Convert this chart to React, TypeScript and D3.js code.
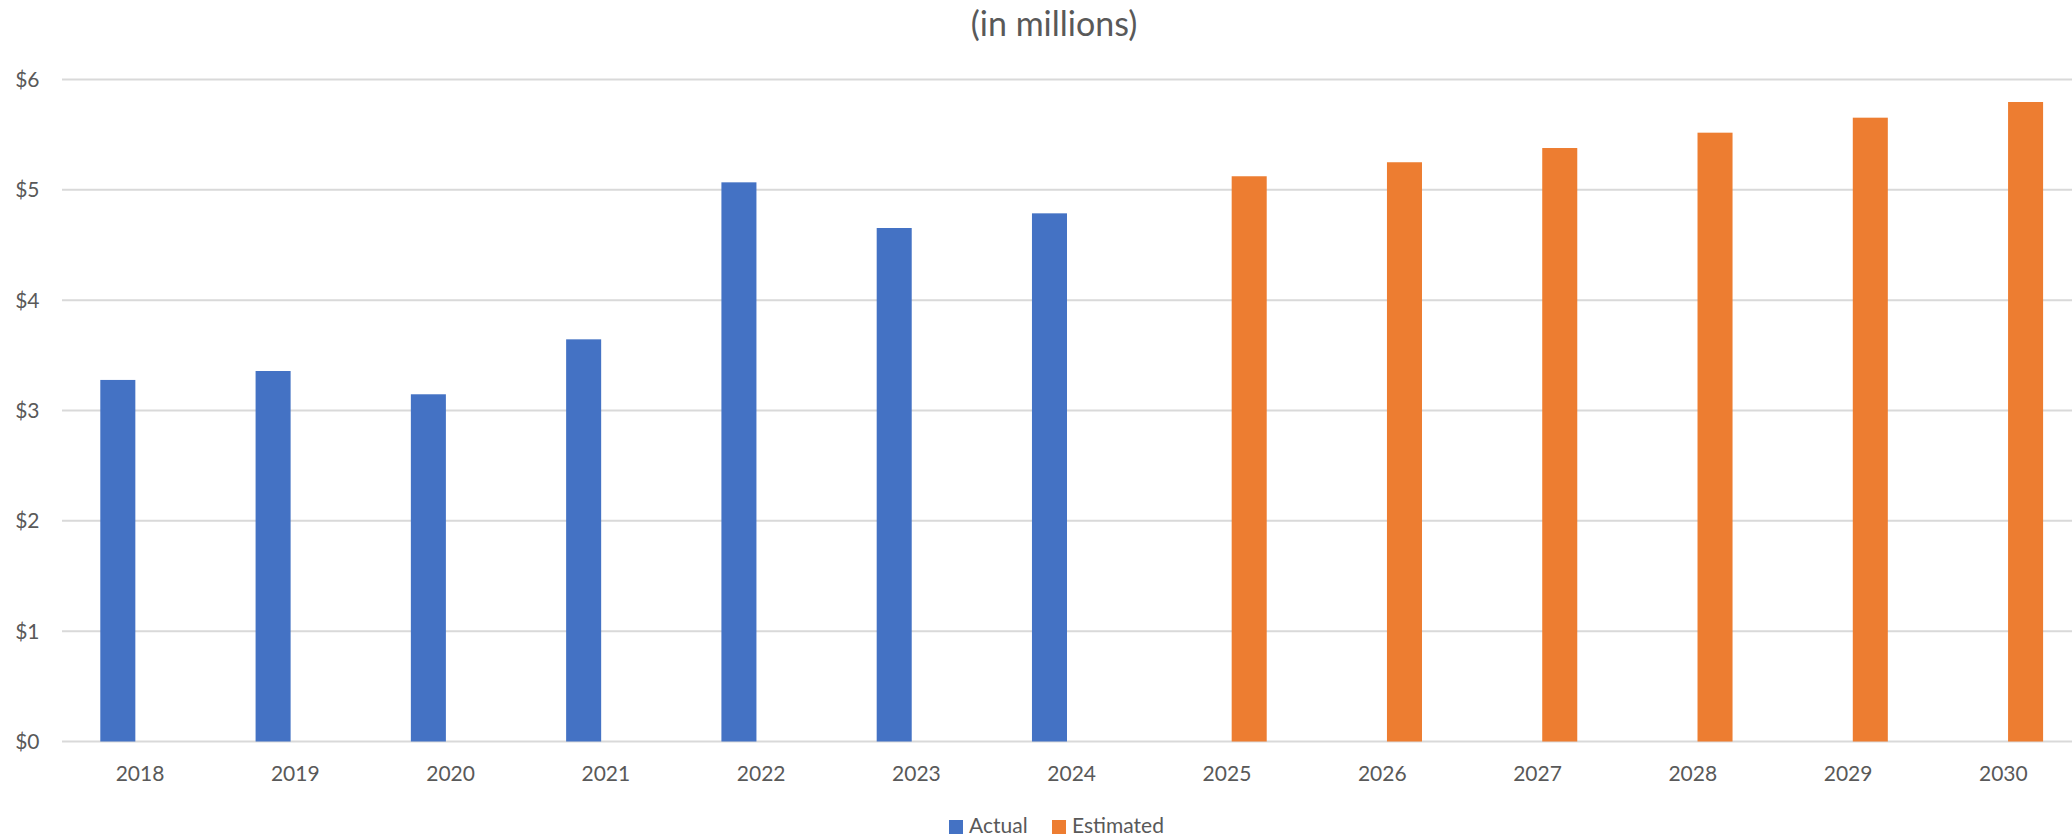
import React from "react";
import * as d3 from "d3";

const years = ["2018","2019","2020","2021","2022","2023","2024","2025","2026","2027","2028","2029","2030"];
const actual: (number | null)[] = [3.277, 3.358, 3.147, 3.645, 5.068, 4.654, 4.787, null, null, null, null, null, null];
const estimated: (number | null)[] = [null, null, null, null, null, null, null, 5.123, 5.25, 5.379, 5.518, 5.654, 5.796];
const seriesNames = ["Actual", "Estimated"];
const seriesColors = ["#4472C4", "#ED7D31"];
const yTicks = [0, 1, 2, 3, 4, 5, 6];
const title = "(in millions)";

const W = 2072;
const H = 838;
const FONT = "Lato, 'Open Sans', sans-serif";
const TEXT = "#595959";

export default function App() {
  const x = d3.scaleBand<string>().domain(years).range([62.4, 2081]).paddingInner(0).paddingOuter(0);
  const step = x.bandwidth();
  const inner = d3.scaleBand<string>().domain(seriesNames).range([0, step]).paddingInner(0.2117).paddingOuter(0.853);
  const y = d3.scaleLinear().domain([0, 6]).range([741.5, 79.5]);
  const series = [actual, estimated];

  return (
    <svg width={W} height={H} style={{ position: "absolute", left: 0, top: 0, background: "#fff" }} fontFamily={FONT}>
      <rect x={0} y={0} width={W} height={H} fill="#fff" />
      <text x={1054} y={36} textAnchor="middle" fontSize={34} fill={TEXT}>{title}</text>
      {yTicks.map((t) => (
        <g key={t}>
          <line x1={62} x2={W} y1={y(t)} y2={y(t)} stroke="#d9d9d9" strokeWidth={2} />
          <text x={39.5} y={y(t)} dy="0.35em" textAnchor="end" fontSize={21} fill={TEXT}>{`$${d3.format("d")(t)}`}</text>
        </g>
      ))}
      {series.map((vals, si) =>
        vals.map((v, i) =>
          v == null ? null : (
            <rect
              key={`${si}-${i}`}
              x={(x(years[i]) as number) + (inner(seriesNames[si]) as number)}
              width={inner.bandwidth()}
              y={y(v)}
              height={y(0) - y(v)}
              fill={seriesColors[si]}
            />
          )
        )
      )}
      {years.map((yr) => (
        <text key={yr} x={(x(yr) as number) + step / 2} y={781} textAnchor="middle" fontSize={21} fill={TEXT}>{yr}</text>
      ))}
      <g>
        <rect x={949} y={820} width={14} height={14} fill={seriesColors[0]} />
        <text x={969} y={833} fontSize={21} fill={TEXT}>{seriesNames[0]}</text>
        <rect x={1052} y={820} width={14} height={14} fill={seriesColors[1]} />
        <text x={1072} y={833} fontSize={21} fill={TEXT}>{seriesNames[1]}</text>
      </g>
    </svg>
  );
}
